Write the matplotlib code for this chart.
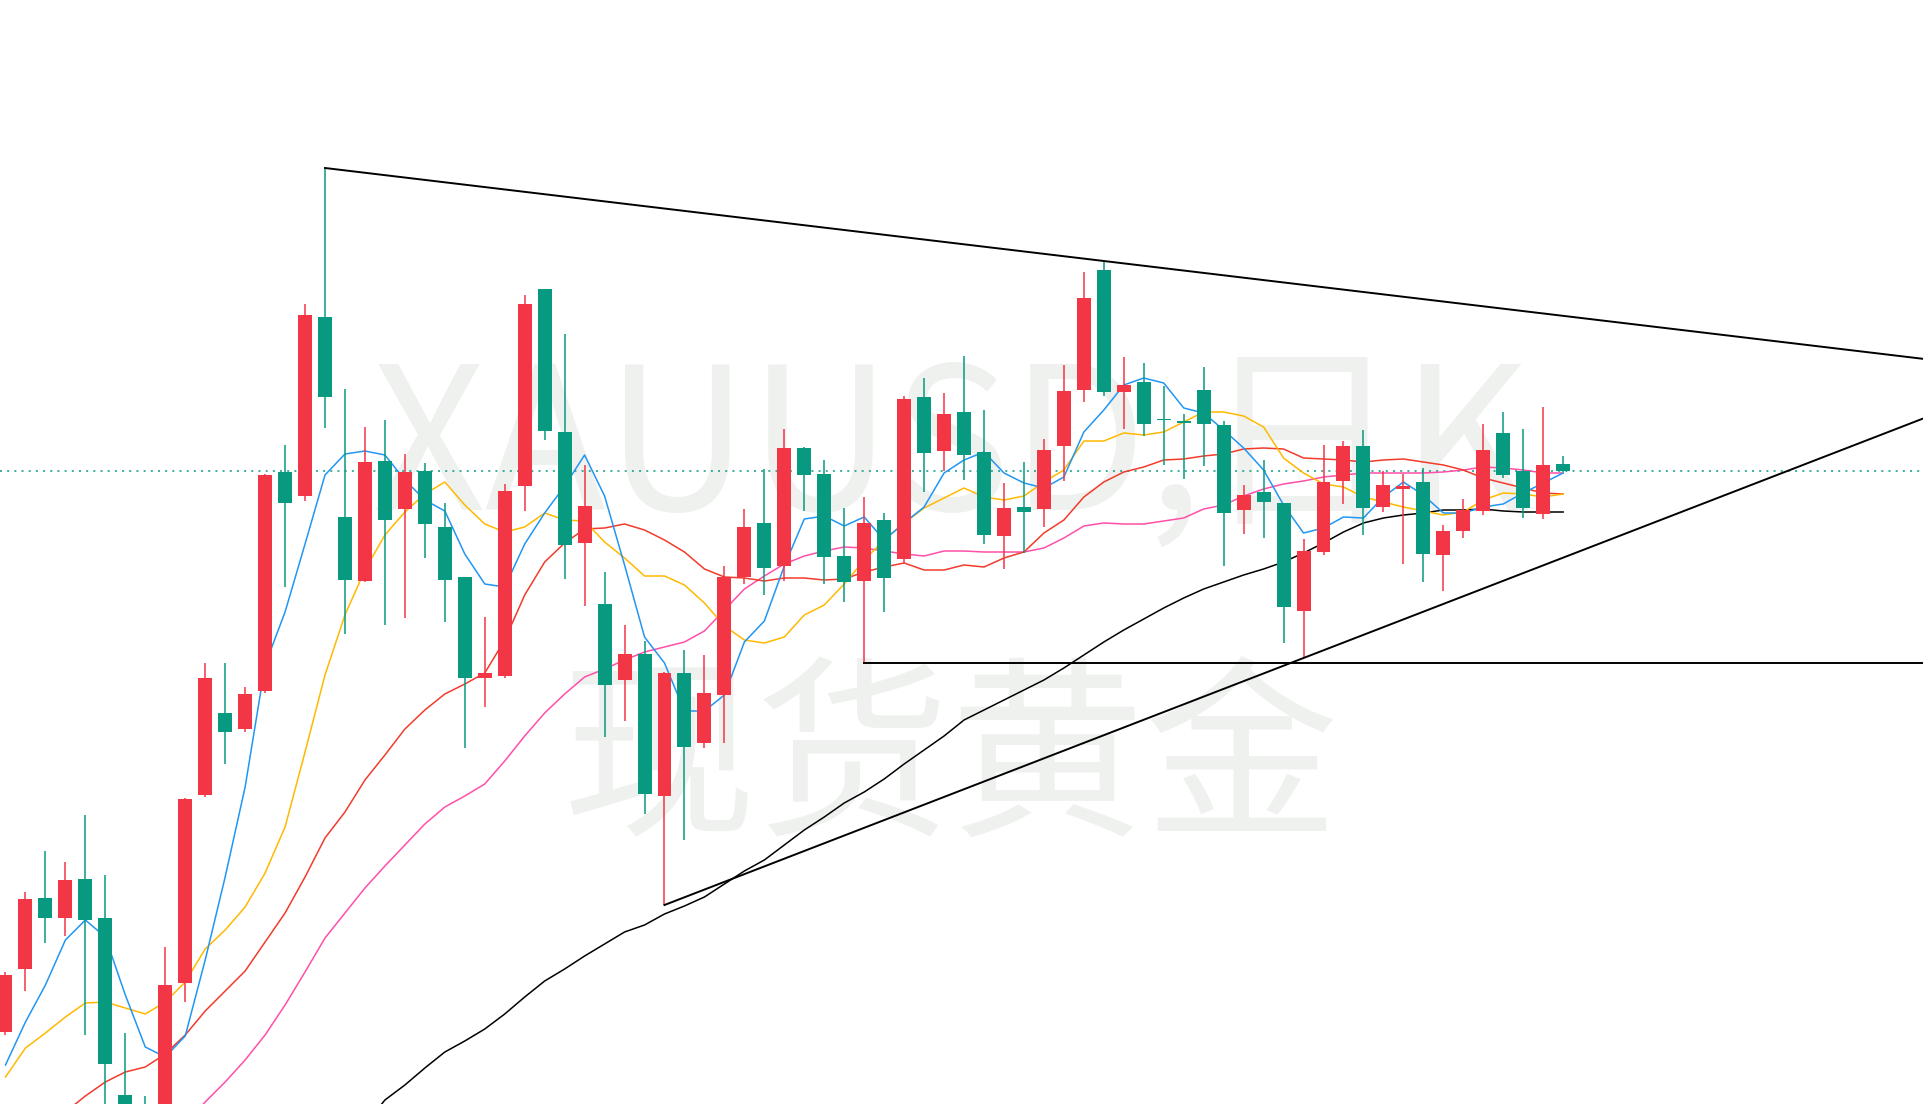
import numpy as np
import matplotlib.pyplot as plt

# XAUUSD daily candles (arbitrary price units)
opens = [268, 331, 402, 382, 421, 382, 205, 190, 105, 317, 505, 587, 571, 609, 828, 804,
         983, 783, 719, 839, 791, 829, 773, 723, 622, 624, 814, 1011, 868, 757, 696, 620,
         646, 504, 627, 557, 605, 723, 777, 734, 852, 826, 744, 719, 780, 741, 903, 849,
         888, 848, 764, 793, 791, 854, 910, 1030, 908, 918, 881, 879, 910, 875, 790, 808,
         797, 689, 748, 819, 854, 793, 811, 818, 745, 769, 789, 867, 829, 786, 836]
highs = [328, 408, 449, 438, 485, 425, 267, 204, 353, 502, 637, 637, 613, 826, 855, 996,
         1132, 911, 873, 880, 846, 837, 797, 723, 683, 816, 1005, 1011, 966, 835, 728, 675,
         659, 628, 650, 645, 734, 791, 831, 871, 853, 840, 792, 803, 787, 904, 922, 907,
         944, 890, 817, 838, 861, 935, 1028, 1039, 943, 937, 914, 886, 933, 879, 815, 840,
         797, 761, 855, 859, 870, 829, 826, 832, 775, 801, 876, 888, 871, 893, 844]
lows = [265, 309, 357, 364, 265, 185, 150, 75, 90, 298, 503, 536, 568, 607, 713, 799,
        872, 666, 718, 675, 682, 742, 678, 552, 593, 622, 789, 860, 721, 694, 563, 579,
        486, 395, 460, 552, 557, 716, 705, 719, 789, 716, 698, 637, 688, 737, 808, 829,
        820, 756, 731, 747, 773, 819, 898, 904, 871, 864, 835, 821, 834, 734, 766, 762,
        657, 642, 745, 796, 765, 788, 736, 718, 709, 762, 785, 822, 782, 781, 828]
closes = [325, 401, 382, 420, 380, 236, 167, 88, 315, 501, 622, 568, 606, 825, 797, 985,
          903, 720, 838, 780, 828, 776, 720, 622, 627, 809, 996, 869, 755, 794, 615, 646,
          506, 627, 553, 607, 723, 773, 732, 852, 825, 743, 718, 777, 722, 901, 847, 886,
          845, 765, 792, 788, 850, 909, 1002, 908, 915, 876, 880, 877, 876, 787, 805, 798,
          693, 749, 818, 854, 792, 815, 814, 746, 769, 790, 850, 825, 792, 835, 829]

nan = np.nan
ma5 = [235, 278, 315, 360, 380, 363, 305, 253, 243, 264, 340, 423, 513, 635, 688, 756,
       825, 846, 849, 845, 820, 800, 789, 746, 716, 713, 756, 787, 814, 845, 804, 735,
       663, 637, 589, 589, 605, 658, 679, 734, 781, 784, 774, 783, 760, 777, 793, 827,
       840, 848, 827, 817, 812, 823, 868, 890, 915, 922, 917, 892, 887, 870, 852, 830,
       795, 767, 772, 783, 782, 803, 818, 805, 787, 787, 793, 796, 807, 817, 827]
ma10 = [223, 252, 267, 283, 297, 298, 292, 286, 298, 318, 351, 370, 393, 427, 473, 548,
        625, 685, 730, 765, 788, 806, 818, 795, 776, 768, 773, 787, 780, 779, 758, 742,
        724, 724, 715, 697, 674, 660, 657, 663, 685, 695, 716, 740, 760, 777, 792, 802,
        812, 803, 800, 804, 818, 830, 859, 859, 867, 865, 868, 878, 888, 888, 884, 873,
        842, 827, 816, 813, 803, 798, 793, 789, 785, 788, 800, 807, 806, 803, 806]
ma20 = [nan, nan, nan, 188, 204, 218, 228, 233, 246, 265, 289, 309, 329, 358, 387, 423,
        462, 488, 520, 545, 571, 590, 606, 616, 627, 660, 705, 738, 757, 771, 772, 776,
        770, 760, 748, 731, 723, 722, 719, 722, 722, 720, 721, 728, 733, 737, 730, 730,
        735, 733, 742, 748, 767, 780, 803, 818, 828, 833, 840, 841, 844, 846, 851, 852,
        851, 842, 841, 840, 838, 840, 841, 838, 835, 830, 822, 817, 812, 807, 806]
ma30 = [nan, nan, nan, nan, nan, nan, nan, nan, nan, 175, 198, 218, 240, 265, 295, 328,
        362, 387, 412, 434, 455, 476, 493, 504, 516, 539, 564, 587, 606, 623, 631, 640,
        648, 653, 658, 669, 690, 711, 724, 736, 744, 749, 753, 752, 749, 746, 744, 749,
        749, 748, 748, 748, 752, 762, 774, 777, 776, 776, 779, 782, 791, 795, 804, 811,
        816, 819, 823, 825, 827, 827, 827, 827, 828, 830, 833, 832, 830, 827, 827]
ma60 = [nan, nan, nan, nan, nan, nan, nan, nan, nan, nan, nan, nan, nan, nan, nan, nan,
        nan, nan, 175, 200, 215, 232, 248, 259, 271, 286, 303, 319, 331, 344, 356, 368,
        375, 386, 394, 403, 416, 429, 440, 455, 470, 483, 497, 508, 521, 536, 550, 564,
        580, 590, 600, 610, 620, 632, 645, 658, 670, 681, 692, 702, 711, 718, 725, 731,
        738, 747, 757, 768, 777, 782, 785, 787, 790, 790, 791, 789, 788, 788, 788]

# drawings anchored on candles: (index, price)
resist_a, resist_b = (16, 1132), (55, 1039)
support_a, support_b = (33, 395), (65, 642)
hline_a = (43, 637)

up_color = "#f23645"
down_color = "#089981"

o = np.array(opens, float)
h = np.array(highs, float)
l = np.array(lows, float)
c = np.array(closes, float)
x = np.arange(len(o))

fig = plt.figure(figsize=(19.24, 11.04), dpi=100)
ax = fig.add_axes([0, 0, 1, 1])
x_max = 96.07
ax.set_xlim(-0.275, x_max)
ax.set_ylim(196, 1300)
ax.axis("off")

# watermark
wm_font = ["Noto Sans CJK SC", "DejaVu Sans"]
ax.text(0.494, 0.589, "XAUUSD,日K", transform=ax.transAxes, ha="center", va="center",
        fontsize=143, color="#eff1ef", family=wm_font, zorder=0)
ax.text(0.494, 0.306, "现货黄金", transform=ax.transAxes, ha="center", va="center",
        fontsize=140, color="#eff1ef", family=wm_font, zorder=0)

# moving averages
ax.plot(x, ma60, color="#000000", lw=1.1, zorder=2)
ax.plot(x, ma30, color="#ff4fa8", lw=1.1, zorder=2)
ax.plot(x, ma20, color="#f23b2b", lw=1.1, zorder=2)
ax.plot(x, ma10, color="#ffb900", lw=1.1, zorder=2)
ax.plot(x, ma5, color="#2196f3", lw=1.1, zorder=2)

# candles
colors = np.where(c >= o, up_color, down_color)
ax.vlines(x, l, h, colors=colors, lw=1.1, zorder=3)
body = np.maximum(np.abs(c - o), 1.5)
ax.bar(x, body, bottom=np.minimum(o, c), width=0.7, color=colors, linewidth=0, zorder=4)

# last price
ax.axhline(c[-1], color=down_color, lw=1.1, linestyle=(0, (1.3, 3.4)), zorder=1)

# trend lines
def ray(a, b):
    slope = (b[1] - a[1]) / (b[0] - a[0])
    return [a[0], x_max], [a[1], a[1] + slope * (x_max - a[0])]

for a, b in [(resist_a, resist_b), (support_a, support_b)]:
    xs, ys = ray(a, b)
    ax.plot(xs, ys, color="black", lw=1.4, zorder=5)
ax.plot([hline_a[0], x_max], [hline_a[1], hline_a[1]], color="black", lw=1.4, zorder=5)

fig.savefig("out.png", dpi=100)
plt.close(fig)
